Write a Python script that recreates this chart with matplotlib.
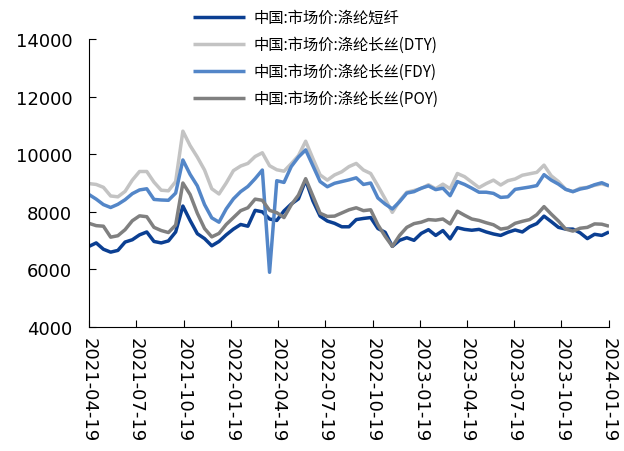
import matplotlib
matplotlib.use("Agg")
import matplotlib.pyplot as plt
import pandas as pd

plt.rcParams['font.family'] = ['Noto Sans CJK SC', 'DejaVu Sans']

# roughly two-week samples, 2021-04-19 .. 2024-01-19
dates = pd.date_range('2021-04-19', '2024-01-19', periods=73)

psf = [6800, 6920, 6700, 6600, 6660, 6950, 7030, 7200, 7300, 6970,
       6920, 6990, 7300, 8200, 7700, 7240, 7070, 6820, 6970, 7200,
       7400, 7560, 7500, 8050, 8000, 7750, 7700, 8030, 8270, 8450,
       9100, 8380, 7850, 7680, 7600, 7480, 7480, 7730, 7770, 7800,
       7420, 7290, 6800, 7010, 7100, 7010, 7250, 7380, 7180, 7350,
       7060, 7450, 7390, 7360, 7390, 7300, 7230, 7180, 7290, 7370,
       7300, 7480, 7590, 7850, 7660, 7460, 7400, 7400, 7270, 7070,
       7220, 7180, 7300]

dty = [8980, 8950, 8850, 8550, 8520, 8710, 9100, 9400, 9400, 9030,
       8750, 8730, 9050, 10800, 10300, 9900, 9450, 8800, 8620, 9000,
       9430, 9590, 9680, 9920, 10050, 9600, 9460, 9410, 9670, 9950,
       10450, 9850, 9280, 9100, 9280, 9390, 9570, 9680, 9450, 9330,
       8900, 8450, 7980, 8380, 8680, 8740, 8810, 8940, 8800, 8960,
       8800, 9330, 9220, 9030, 8840, 8980, 9100, 8930, 9080, 9140,
       9270, 9320, 9370, 9620, 9250, 9050, 8780, 8700, 8820, 8850,
       8920, 8970, 8900]

fdy = [8600, 8440, 8250, 8150, 8260, 8420, 8630, 8760, 8800, 8430,
       8410, 8400, 8650, 9800, 9300, 8900, 8250, 7790, 7640, 8100,
       8450, 8700, 8880, 9150, 9450, 5900, 9080, 9020, 9570, 9900,
       10150, 9600, 9050, 8870, 8990, 9050, 9110, 9180, 8950, 9000,
       8480, 8270, 8100, 8350, 8650, 8700, 8820, 8900, 8770, 8820,
       8560, 9050, 8950, 8820, 8680, 8680, 8640, 8500, 8520, 8780,
       8820, 8860, 8910, 9290, 9100, 8960, 8780, 8700, 8790, 8840,
       8940, 9010, 8900]

poy = [7600, 7520, 7500, 7120, 7170, 7380, 7690, 7860, 7830, 7460,
       7350, 7280, 7540, 9000, 8600, 7950, 7420, 7130, 7250, 7560,
       7800, 8040, 8140, 8440, 8400, 8050, 7970, 7800, 8240, 8580,
       9150, 8550, 7950, 7840, 7850, 7960, 8070, 8140, 8040, 8070,
       7550, 7150, 6800, 7180, 7460, 7590, 7640, 7730, 7710, 7750,
       7580, 8020, 7880, 7750, 7700, 7620, 7550, 7400, 7440, 7600,
       7670, 7730, 7900, 8180, 7920, 7680, 7400, 7330, 7430, 7460,
       7580, 7570, 7500]

labels = ['中国:市场价:涤纶短纤', '中国:市场价:涤纶长丝(DTY)',
          '中国:市场价:涤纶长丝(FDY)', '中国:市场价:涤纶长丝(POY)']
colors = ['#0B3F92', '#C3C3C3', '#5386C8', '#808080']
tick_labels = ['2021-04-19', '2021-07-19', '2021-10-19', '2022-01-19',
               '2022-04-19', '2022-07-19', '2022-10-19', '2023-01-19',
               '2023-04-19', '2023-07-19', '2023-10-19', '2024-01-19']

fig = plt.figure(figsize=(6.24, 4.52), dpi=100)
ax = fig.add_axes([0.1426, 0.2743, 0.8334, 0.6372])

for s, lab, c in zip([psf, dty, fdy, poy], labels, colors):
    ax.plot(dates, s, color=c, lw=2.5, label=lab, solid_capstyle='butt')

ax.set_ylim(4000, 14000)
ax.set_yticks(range(4000, 14001, 2000))
ax.set_xlim(pd.Timestamp(tick_labels[0]), pd.Timestamp(tick_labels[-1]))
ax.set_xticks(pd.to_datetime(tick_labels))
ax.set_xticklabels(tick_labels, rotation=-90, family='DejaVu Sans')

for sp in ['top', 'right']:
    ax.spines[sp].set_visible(False)
ax.tick_params(axis='both', direction='in', length=5, labelsize=13)
ax.tick_params(axis='y', pad=12)
ax.tick_params(axis='x', pad=7)
for t in ax.get_yticklabels():
    t.set_family('DejaVu Sans')

fig.legend(loc='upper left', bbox_to_anchor=(0.309, 0.978), frameon=False,
           fontsize=11, handlelength=3.4, handletextpad=0.6,
           labelspacing=0.66, borderpad=0, borderaxespad=0)

fig.savefig('out.png', dpi=100)
